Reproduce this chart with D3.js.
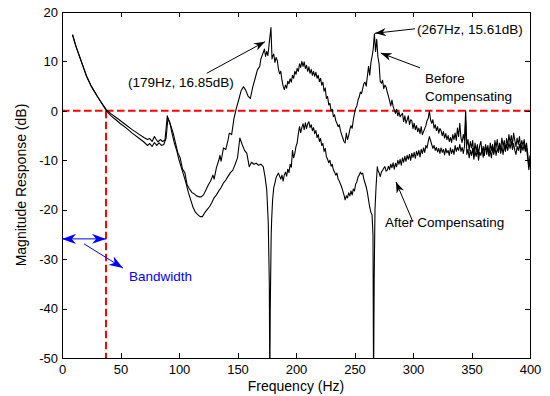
<!DOCTYPE html>
<html lang="en">
<head>
<meta charset="utf-8">
<title>Magnitude Response</title>
<style>
body{
  margin: 0;
  background: #fff;
}
svg text{
  font-family: "Liberation Sans", Arial, sans-serif;
}
.axis path, .axis line{
  fill: none;
  stroke: #000;
  shape-rendering: crispEdges;
}
.axis text{
  font-size: 13px;
  fill: #000;
}
.note{
  font-size: 13.5px;
}
</style>
</head>
<body>
<div id="chart"></div>
<script src="https://d3js.org/d3.v7.min.js"></script>
<script>
  // tick values
  const xTicks = [0, 50, 100, 150, 200, 250, 300, 350, 400];
  const yTicks = [-50, -40, -30, -20, -10, 0, 10, 20];

  // "Before Compensating" curve
  const freqBefore = [9,12,15,18,21,25,30,34,38,42,46,50,55,60,65,70,73,75,77,79,80,82,84,86,88,89,90,91,93,95,97,99,
    101,103,105,107,109,111,113,115,117,119,121,123,125,127,129,130,132,134,135,136,138,140,142,143,145,147,149,
    151,153,155,157,159,161,163,165,167,169,170,172,173,174,175,176,177,178.6,179.5,
    180,181,182,183,184,185,186,187,188,189,190,191,192,193,194,195,196,197,198,199,
    200,201,202,203,204,205,206,207,208,209,210,211,212,213,214,215,216,217,218,219,
    220,221,222,223,224,225,226,227,228,229,230,231,232,233,234,235,236,237,238,239,
    240,241,242,243,244,245,246,247,248,249,250,251,252,253,254,255,256,257,258,259,
    260,261,262,263,264,265,266,267,268,269,270,271,272,273,274,275,276,277,278,279,
    280,281,282,283,284,285,286,287,288,289,290,291,292,293,294,295,296,297,298,299,
    300,301,302,303,304,305,306,307,308,309,310,311,312,313,314,315,316,317,318,319,
    320,321,322,323,324,325,326,327,328,329,330,331,332,333,334,335,336,337,338,339,
    340,341,342,343,344,345,346,347,348,349,350,351,352,353,354,355,356,357,358,359,
    360,361,362,363,364,365,366,367,368,369,370,371,372,373,374,375,376,377,378,379,
    380,381,382,383,384,385,386,387,388,389,390,391,392,393,394,395,396,397,398,399,400];
  const dbBefore = [15.4,13.0,11.0,9.0,7.0,5.0,3.0,1.6,0.2,-0.6,-1.3,-2.0,-2.9,-3.8,-4.6,-5.4,-5.8,-5.6,-6.2,-5.2,-5.6,-6.3,-5.8,-6.2,-5.9,-3.5,-1.0,-1.8,-3.0,-4.5,-6.5,-8.5,
    -9.5,-11.8,-12.5,-15.0,-15.8,-16.5,-16.8,-17.2,-17.4,-17.4,-17.0,-16.0,-15.0,-14.2,-13.0,-13.8,-11.5,-10.0,-9.0,-10.2,-7.5,-7.8,-5.8,-4.5,-4.8,-1.5,0.5,
    2.2,4.0,4.9,4.2,3.0,2.5,4.8,6.5,8.3,9.0,10.5,11.8,12.5,11.0,12.0,11.2,13.5,16.85,10.5,
    11.0,11.5,9.8,10.8,10.2,8.5,7.5,8.0,6.2,5.0,4.3,5.2,4.6,6.0,5.5,6.5,5.8,7.2,6.6,8.0,
    7.4,8.6,8.0,9.5,8.8,10.0,9.0,9.9,8.6,9.2,8.0,8.9,7.6,8.4,7.2,8.0,7.0,7.8,6.6,7.2,
    5.9,6.6,5.2,5.8,4.0,4.6,2.5,2.9,1.2,1.5,0.0,0.3,-1.2,-0.8,-2.0,-2.5,-3.2,-2.8,-4.0,-4.8,
    -5.5,-6.2,-6.5,-4.5,-5.8,-5.0,-3.8,-3.0,-3.5,-1.8,-0.5,0.5,1.0,2.2,2.8,3.8,3.5,4.5,5.5,5.8,
    5.0,7.0,9.0,7.2,9.7,11.0,12.5,15.61,12.0,14.5,11.0,9.5,6.0,5.6,6.2,4.5,5.2,4.8,3.8,3.0,
    2.0,1.0,2.2,0.9,0.2,-0.5,0.3,-1.0,-0.2,-1.2,-0.8,-0.5,-2.2,-1.0,-2.5,-1.8,-1.0,-2.8,-1.8,-2.0,
    -3.6,-2.5,-3.8,-3.0,-4.2,-3.5,-4.6,-3.2,-4.8,-4.2,-3.6,-3.0,-2.0,-1.5,0.0,-1.8,-2.5,-1.8,-3.5,-2.8,
    -4.0,-3.2,-4.5,-3.6,-4.0,-5.0,-4.2,-5.5,-4.6,-5.8,-5.0,-6.2,-5.4,-6.4,-4.8,-5.8,-4.5,-6.0,-3.5,-5.2,
    -2.5,-5.5,-6.4,-4.8,-6.0,0.0,-7.0,-5.8,-8.0,-6.2,-7.5,-6.0,-9.0,-6.5,-8.2,-6.8,-8.8,-7.0,-6.2,-8.5,
    -7.2,-9.0,-6.8,-8.2,-7.0,-9.0,-6.5,-8.0,-6.8,-8.5,-6.0,-7.5,-5.8,-8.0,-6.5,-7.8,-5.5,-7.2,-6.0,-8.0,
    -5.6,-7.0,-4.8,-6.5,-5.0,-6.8,-4.5,-6.0,-7.2,-5.5,-6.8,-5.2,-7.5,-6.0,-7.0,-5.8,-7.8,-6.5,-8.5,-11.3,-9.0];

  // "After Compensating" curve (notches run past -50)
  const freqAfter = [9,12,15,18,21,25,30,34,38,42,46,50,55,60,65,70,73,75,77,79,81,83,85,87,89,90.5,92,94,96,98,
    100,102,104,106,108,110,112,114,116,118,120,122,124,126,128,130,132,134,136,138,140,142,144,146,148,
    150,152,154,156,158,160,162,164,166,168,170,172,173.5,175,176.3,177.2,177.6,178,178.8,179.2,
    180,181,182,183,184,185,186,187,188,189,190,191,192,193,194,195,196,197,198,199,
    200,201,202,203,204,205,206,207,208,209,210,211,212,213,214,215,216,217,218,219,
    220,221,222,223,224,225,226,227,228,229,230,231,232,233,234,235,236,237,238,239,
    240,241,242,243,244,245,246,247,248,249,250,251,252,253,254,255,256,257,258,259,
    260,261,262,263,264,265,265.8,266.3,266.8,267.5,268.5,269.5,
    270,271,272,273,274,275,276,277,278,279,280,281,282,283,284,285,286,287,288,289,
    290,291,292,293,294,295,296,297,298,299,300,301,302,303,304,305,306,307,308,309,
    310,311,312,313,314,315,316,317,318,319,320,321,322,323,324,325,326,327,328,329,
    330,331,332,333,334,335,336,337,338,339,340,341,342,343,344,345,346,347,348,349,
    350,351,352,353,354,355,356,357,358,359,360,361,362,363,364,365,366,367,368,369,
    370,371,372,373,374,375,376,377,378,379,380,381,382,383,384,385,386,387,388,389,
    390,391,392,393,394,395,396,397,398,399,400];
  const dbAfter = [15.4,13.0,11.0,9.0,7.0,5.0,3.0,1.5,0.0,-1.0,-1.8,-2.6,-3.5,-4.5,-5.4,-6.3,-7.0,-6.6,-7.2,-6.4,-7.0,-6.5,-7.0,-6.8,-5.5,-1.5,-2.2,-4.5,-6.5,-8.0,
    -9.9,-11.5,-13.0,-14.6,-16.5,-18.0,-19.5,-20.5,-21.0,-21.4,-21.4,-20.6,-20.0,-19.4,-18.6,-17.6,-17.0,-16.2,-15.5,-14.6,-14.0,-13.2,-12.5,-12.0,-10.8,
    -9.5,-5.5,-6.8,-8.0,-8.6,-11.3,-10.4,-10.8,-10.6,-11.0,-10.8,-11.3,-13.3,-16.0,-22.7,-35,-56,-40,-25,-22,
    -18.0,-15.5,-14.6,-13.5,-13.0,-12.6,-13.2,-13.8,-13.0,-14.2,-13.0,-12.4,-13.2,-11.8,-12.5,-10.8,-11.4,-8.0,-9.5,-8.6,
    -7.2,-6.5,-4.6,-3.2,-4.4,-3.4,-2.6,-3.8,-2.4,-3.6,-2.6,-2.2,-3.4,-2.8,-4.0,-3.4,-4.6,-4.0,-5.4,-4.8,
    -6.2,-5.6,-7.0,-6.6,-8.2,-7.6,-9.3,-9.8,-10.5,-10.0,-11.2,-10.8,-12.0,-12.4,-13.0,-12.6,-13.8,-14.2,-14.8,-15.4,
    -16.2,-17.0,-18.0,-17.2,-17.6,-16.6,-17.2,-16.2,-17.0,-15.8,-16.2,-14.8,-14.4,-13.4,-13.0,-12.4,-12.8,-12.6,-13.8,-14.6,
    -15.4,-16.5,-18.0,-19.5,-20.5,-21.0,-25,-56,-35,-20,-15,-11.3,
    -12.0,-12.5,-13.3,-12.4,-12.0,-11.6,-11.3,-12.2,-12.0,-11.2,-11.9,-10.8,-11.5,-10.5,-11.8,-10.6,-11.3,-10.0,-10.8,-9.8,
    -11.0,-9.5,-10.4,-9.2,-10.2,-9.0,-9.8,-8.8,-10.0,-8.6,-9.4,-8.4,-9.6,-8.2,-9.0,-8.0,-9.3,-7.8,-8.6,-7.5,
    -8.4,-7.0,-7.5,-6.2,-5.2,-6.0,-6.8,-7.6,-7.0,-8.0,-7.4,-8.3,-7.6,-8.6,-7.5,-8.4,-7.8,-8.9,-7.6,-8.5,
    -8.0,-9.0,-7.5,-8.6,-7.8,-8.8,-7.0,-8.2,-7.4,-8.0,-6.8,-8.2,-7.4,-8.6,-7.2,-2.0,-8.8,-7.8,-9.5,-8.0,
    -9.0,-7.6,-9.8,-8.2,-9.2,-7.8,-10.0,-8.4,-9.0,-7.6,-9.4,-8.0,-7.2,-8.8,-7.5,-9.2,-8.0,-9.5,-7.5,-8.8,
    -7.2,-9.0,-7.6,-8.4,-7.0,-8.6,-7.2,-8.8,-7.0,-8.2,-6.8,-8.0,-6.5,-7.6,-6.2,-7.8,-6.6,-8.0,-8.8,-7.2,
    -8.0,-6.8,-8.5,-7.0,-8.0,-6.8,-8.2,-7.5,-9.5,-11.9,-10.0];

  // bandwidth crossing (Hz)
  const bandwidthHz = 37.6;

  const width = 550;
  const height = 396;
  const margin = { top: 12, right: 20, bottom: 38, left: 62 };

  const svg = d3.select("#chart")
    .append("svg")
    .attr("width", width)
    .attr("height", height);

  const x = d3.scaleLinear()
    .domain([0, 400])
    .range([margin.left, width - margin.right]);

  const y = d3.scaleLinear()
    .domain([-50, 20])
    .range([height - margin.bottom, margin.top]);

  const defs = svg.append("defs");
  defs.append("clipPath")
    .attr("id", "plot")
    .append("rect")
    .attr("x", x(0)).attr("y", y(20))
    .attr("width", x(400) - x(0)).attr("height", y(-50) - y(20));

  // arrow heads
  [["head", "#000", 11, 8], ["bhead", "#0000ff", 14, 10]].forEach(([id, c, l, w]) => {
    defs.append("marker")
      .attr("id", id)
      .attr("viewBox", `${-l} ${-w/2} ${l} ${w}`)
      .attr("refX", 0).attr("refY", 0)
      .attr("markerUnits", "userSpaceOnUse")
      .attr("markerWidth", l).attr("markerHeight", w)
      .attr("orient", "auto-start-reverse")
      .append("path")
      .attr("d", `M0,0L${-l},${-w/2}L${-l*0.7},0L${-l},${w/2}Z`)
      .attr("fill", c);
  });

  // red dashed lines
  svg.append("line")
    .attr("x1", x(0)).attr("x2", x(400))
    .attr("y1", y(0)).attr("y2", y(0))
    .attr("stroke", "#ff0000").attr("stroke-width", 2)
    .attr("stroke-dasharray", "7.5,3.5");
  svg.append("line")
    .attr("x1", x(bandwidthHz)).attr("x2", x(bandwidthHz))
    .attr("y1", y(0)).attr("y2", y(-50))
    .attr("stroke", "#ff0000").attr("stroke-width", 2)
    .attr("stroke-dasharray", "7.5,3.5");

  // curves
  const line = d3.line()
    .x(d => x(d[0]))
    .y(d => y(d[1]));

  const curves = [
    d3.zip(freqBefore, dbBefore),
    d3.zip(freqAfter, dbAfter)
  ];

  svg.append("g")
    .attr("clip-path", "url(#plot)")
    .selectAll("path")
    .data(curves)
    .enter()
    .append("path")
    .attr("d", line)
    .attr("fill", "none")
    .attr("stroke", "#000")
    .attr("stroke-width", 1.1)
    .attr("stroke-linejoin", "round");

  // axes, ticks pointing inward on all four sides
  const fmt = d => String(d);

  svg.append("g")
    .attr("class", "axis")
    .attr("transform", `translate(0,${y(-50)})`)
    .call(d3.axisBottom(x).tickValues(xTicks).tickFormat(fmt).tickSizeInner(-5).tickSizeOuter(0).tickPadding(7));

  svg.append("g")
    .attr("class", "axis")
    .attr("transform", `translate(0,${y(20)})`)
    .call(d3.axisTop(x).tickValues(xTicks).tickSizeInner(-5).tickSizeOuter(0).tickFormat(""));

  svg.append("g")
    .attr("class", "axis")
    .attr("transform", `translate(${x(0)},0)`)
    .call(d3.axisLeft(y).tickValues(yTicks).tickFormat(fmt).tickSizeInner(-5).tickSizeOuter(0).tickPadding(4));

  svg.append("g")
    .attr("class", "axis")
    .attr("transform", `translate(${x(400)},0)`)
    .call(d3.axisRight(y).tickValues(yTicks).tickSizeInner(-5).tickSizeOuter(0).tickFormat(""));

  // axis titles
  svg.append("text")
    .attr("x", x(200))
    .attr("y", 391)
    .attr("text-anchor", "middle")
    .attr("font-size", "14px")
    .attr("fill", "#000")
    .text("Frequency (Hz)");

  svg.append("text")
    .attr("transform", `translate(26,${y(-15)}) rotate(-90)`)
    .attr("text-anchor", "middle")
    .attr("font-size", "14px")
    .attr("fill", "#000")
    .text("Magnitude Response (dB)");

  // annotations
  const arrow = (f1, d1, f2, d2, color, both) => {
    const a = svg.append("line")
      .attr("x1", x(f1)).attr("y1", y(d1))
      .attr("x2", x(f2)).attr("y2", y(d2))
      .attr("stroke", color).attr("stroke-width", 1)
      .attr("marker-end", `url(#${color === "#000" ? "head" : "bhead"})`);
    if (both) a.attr("marker-start", "url(#bhead)");
  };

  const note = (f, d, txt, color) => svg.append("text")
    .attr("class", "note")
    .attr("x", x(f)).attr("y", y(d))
    .attr("fill", color || "#000")
    .text(txt);

  note(56.4, 4.9, "(179Hz, 16.85dB)");
  arrow(123.7, 7.6, 173.5, 14.0, "#000");

  note(303.4, 15.6, "(267Hz, 15.61dB)");
  arrow(301.7, 16.6, 267.5, 15.7, "#000");

  note(310.3, 5.6, "Before");
  note(310.3, 2.0, "Compensating");
  arrow(306, 8.7, 272.4, 11.7, "#000");

  note(276.1, -23.4, "After Compensating");
  arrow(300, -22.5, 285.5, -14.4, "#000");

  arrow(0, -25.9, bandwidthHz, -25.9, "#0000ff", true);
  arrow(18.8, -26.9, 52.1, -31.8, "#0000ff");
  note(57.3, -34.5, "Bandwidth", "#0000ff");
</script>
</body>
</html>
